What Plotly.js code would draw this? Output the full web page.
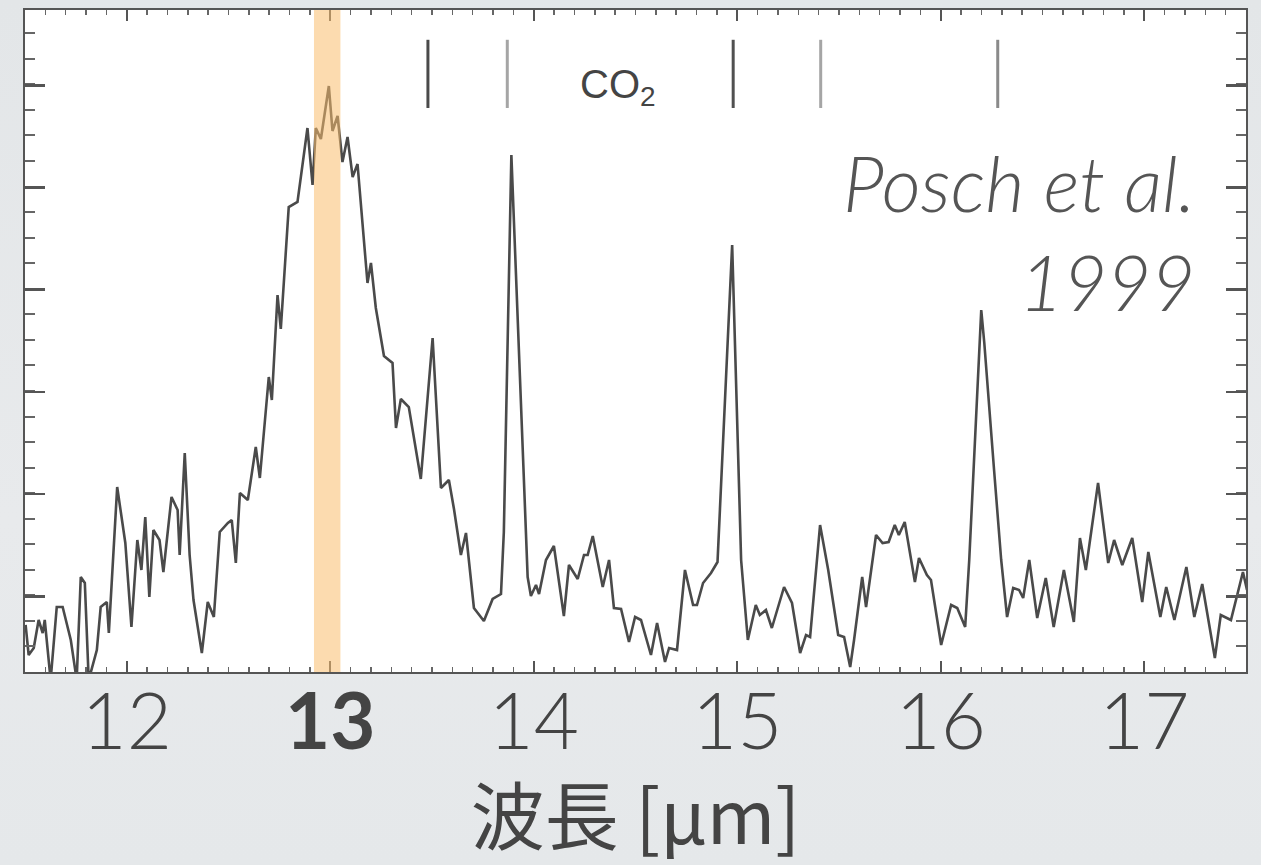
<!DOCTYPE html>
<html>
<head>
<meta charset="utf-8">
<script src="https://cdn.plot.ly/plotly-3.0.1.min.js"></script>
<style>
html,body{margin:0;padding:0;overflow:hidden;}
body{width:1261px;height:865px;background:linear-gradient(180deg,#e3e6e8 0%,#e8eaec 60%,#e5e8ea 100%);}
#chart{width:1261px;height:865px;}
</style>
</head>
<body>
<div id="chart"></div>
<script>
// Spectrum (Posch et al. 1999): wavelength [µm] and flux (arbitrary units)
const wavelength = [
 11.503,11.518,11.543,11.567,11.587,11.597,11.626,11.656,11.685,11.725,
 11.754,11.774,11.794,11.813,11.853,11.872,11.902,11.912,11.953,11.993,
 12.023,12.052,12.072,12.091,12.111,12.131,12.161,12.180,12.220,12.250,
 12.260,12.285,12.309,12.328,12.369,12.398,12.428,12.457,12.497,12.516,
 12.536,12.556,12.595,12.634,12.654,12.698,12.713,12.741,12.757,12.796,
 12.839,12.888,12.913,12.929,12.954,12.993,13.011,13.036,13.060,13.085,
 13.110,13.134,13.183,13.200,13.224,13.264,13.306,13.323,13.347,13.386,
 13.445,13.503,13.544,13.583,13.608,13.642,13.667,13.706,13.755,13.798,
 13.839,13.853,13.890,13.937,13.970,13.986,14.011,14.026,14.060,14.099,
 14.148,14.173,14.216,14.247,14.265,14.290,14.339,14.370,14.394,14.429,
 14.468,14.498,14.527,14.576,14.606,14.645,14.665,14.704,14.743,14.783,
 14.802,14.832,14.871,14.903,14.975,15.019,15.052,15.091,15.111,15.141,
 15.170,15.230,15.269,15.309,15.338,15.358,15.407,15.447,15.496,15.525,
 15.555,15.574,15.614,15.633,15.682,15.714,15.744,15.774,15.794,15.823,
 15.873,15.893,15.932,15.952,16.002,16.051,16.081,16.120,16.140,16.199,
 16.214,16.262,16.297,16.326,16.356,16.385,16.405,16.435,16.474,16.516,
 16.555,16.605,16.654,16.684,16.713,16.773,16.823,16.852,16.892,16.941,
 16.990,17.020,17.079,17.108,17.148,17.207,17.246,17.285,17.347,17.376,
 17.426,17.485,17.505
];
const flux = [
 47,17,24,52,39,52,-8,65,65,32,
 -8,95,89,-8,22,65,70,39,185,129,
 45,132,102,155,75,142,132,100,175,162,
 117,219,117,72,19,70,55,140,149,152,
 109,179,172,225,194,295,272,377,343,465,
 470,544,487,544,533,586,541,556,510,535,
 495,508,389,409,364,316,309,244,273,265,
 193,334,184,192,163,117,139,64,51,73,
 78,140,517,259,95,76,87,78,112,126,
 56,107,93,117,117,136,85,112,64,63,
 30,55,52,17,49,10,24,22,102,67,
 67,89,99,110,427,112,32,67,57,62,
 44,85,69,19,37,35,147,102,37,35,
 5,32,95,65,137,129,130,147,137,150,
 90,114,97,92,27,67,64,45,112,362,
 329,202,112,55,84,82,74,112,54,94,
 45,102,50,134,102,189,109,132,107,134,
 70,120,55,85,52,105,55,88,14,57,
 52,100,82
];
// CO2 band positions marked at the top [µm]
const co2Lines = [13.48, 13.87, 14.98, 15.41, 16.28];
const co2Colors = ["#4a4a4a", "#a5a5a5", "#505050", "#a5a5a5", "#8a8a8a"];
// Highlighted band [µm]
const band = [12.92, 13.05];
// Axis ticks
const tickVals = [12, 13, 14, 15, 16, 17];
const tickText = ["12", "<b>13</b>", "14", "15", "16", "17"];

const shapes = [{
  type: "rect", xref: "x", yref: "paper",
  x0: band[0], x1: band[1], y0: 0, y1: 1,
  fillcolor: "rgba(250,190,110,0.55)", line: {width: 0}, layer: "above"
}];
co2Lines.forEach((w, i) => shapes.push({
  type: "line", xref: "x", yref: "paper",
  x0: w, x1: w, y0: 0.852, y1: 0.955,
  line: {color: co2Colors[i], width: 3}, layer: "above"
}));

const trace = {
  x: wavelength, y: flux, type: "scatter", mode: "lines",
  line: {color: "#4a4a4a", width: 2.6}, hoverinfo: "skip"
};

const layout = {
  width: 1261, height: 865,
  margin: {l: 25, r: 15, t: 10, b: 193},
  paper_bgcolor: "rgba(0,0,0,0)",
  plot_bgcolor: "#ffffff",
  showlegend: false,
  xaxis: {
    range: [11.5, 17.5], showgrid: false, zeroline: false,
    showline: true, linecolor: "#555", linewidth: 2, mirror: "allticks",
    ticks: "inside", ticklen: 11, tickwidth: 2, tickcolor: "#555",
    tickvals: tickVals, ticktext: tickText, ticklabelstandoff: -19,
    tickfont: {family: "Lato, 'Open Sans', sans-serif", size: 78, weight: 300, color: "#444"},
    minor: {dtick: 0.1, ticks: "inside", ticklen: 5, tickwidth: 1.5, tickcolor: "#666", showgrid: false},
    title: {text: "波長 [μm]", font: {family: "'Noto Sans CJK JP', Lato, sans-serif", size: 74, color: "#444"}, standoff: 5},
    automargin: false
  },
  yaxis: {
    range: [0, 662], showgrid: false, zeroline: false,
    showline: true, linecolor: "#555", linewidth: 2, mirror: "allticks",
    ticks: "inside", ticklen: 20, tickwidth: 2.5, tickcolor: "#555",
    tick0: 75.7, dtick: 102.2, showticklabels: false,
    minor: {dtick: 25.55, ticks: "inside", ticklen: 10, tickwidth: 2, tickcolor: "#666", showgrid: false},
    automargin: false
  },
  shapes: shapes,
  annotations: [
    {xref: "x", yref: "paper", x: 14.414, y: 0.925, text: "CO<sub>2</sub>", showarrow: false,
     font: {family: "'Liberation Sans', Arial, sans-serif", size: 40, color: "#444"}},
    {xref: "paper", yref: "paper", x: 0.96, y: 0.664, xanchor: "right", yanchor: "middle", align: "right",
     text: "Posch et al.<br>1999", showarrow: false,
     font: {family: "Lato, 'Open Sans', sans-serif", size: 76, weight: 300, color: "#555", style: "italic"}}
  ]
};

Plotly.newPlot("chart", [trace], layout, {displayModeBar: false, staticPlot: true});
</script>
</body>
</html>
